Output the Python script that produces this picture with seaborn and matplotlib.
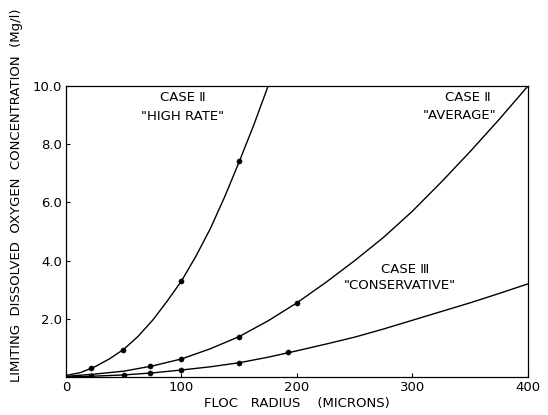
import pandas as pd
import matplotlib
matplotlib.use("Agg")
import matplotlib.pyplot as plt
import seaborn as sns

# curves (floc radius in microns, DO in mg/l)
high_x = [0, 12.5, 25, 37.5, 50, 62.5, 75, 87.5, 100, 112.5, 125, 137.5, 150, 162.5, 175]
high_y = [0.05, 0.15, 0.35, 0.62, 0.95, 1.4, 1.95, 2.6, 3.3, 4.15, 5.1, 6.2, 7.4, 8.65, 10.0]

avg_x = [0, 25, 50, 75, 100, 125, 150, 175, 200, 225, 250, 275, 300, 325, 350, 375, 400]
avg_y = [0.02, 0.1, 0.2, 0.38, 0.62, 0.97, 1.39, 1.93, 2.55, 3.25, 4.0, 4.8, 5.7, 6.7, 7.75, 8.85, 10.0]

cons_x = [0, 25, 50, 75, 100, 125, 150, 175, 200, 225, 250, 275, 300, 325, 350, 375, 400]
cons_y = [0.0, 0.03, 0.07, 0.14, 0.24, 0.35, 0.49, 0.68, 0.9, 1.13, 1.37, 1.65, 1.95, 2.25, 2.55, 2.87, 3.2]

# plotted data points
high_pts_x = [22, 49, 100, 150]
high_pts_y = [0.3, 0.93, 3.3, 7.43]
avg_pts_x = [22, 73, 100, 150, 200]
avg_pts_y = [0.05, 0.39, 0.62, 1.39, 2.53]
cons_pts_x = [22, 50, 73, 100, 150, 192]
cons_pts_y = [0.02, 0.07, 0.13, 0.24, 0.49, 0.87]

x_ticks = [0, 100, 200, 300, 400]
y_ticks = [2, 4, 6, 8, 10]
y_tick_labels = ["2.0", "4.0", "6.0", "8.0", "10.0"]

sns.set_style("ticks")
plt.rcParams["font.family"] = ["DejaVu Sans"]
for k in ["text.color", "axes.labelcolor", "xtick.color", "ytick.color", "axes.edgecolor"]:
    plt.rcParams[k] = "black"

fig = plt.figure(figsize=(5.48, 4.15), dpi=100)
ax = fig.add_axes([0.1204, 0.0916, 0.8431, 0.7012])

for cx, cy in [(high_x, high_y), (avg_x, avg_y), (cons_x, cons_y)]:
    sns.lineplot(x=cx, y=cy, ax=ax, color="black", linewidth=1.0, sort=False)

for px, py in [(high_pts_x, high_pts_y), (avg_pts_x, avg_pts_y), (cons_pts_x, cons_pts_y)]:
    sns.scatterplot(x=px, y=py, ax=ax, color="black", s=14, edgecolor="black", zorder=3)

ax.set_xlim(0, 400)
ax.set_ylim(0, 10)
ax.set_xticks(x_ticks)
ax.set_yticks(y_ticks)
ax.set_yticklabels(y_tick_labels)
ax.tick_params(direction="in", length=3, width=0.8, labelsize=9.5, pad=3)
for s in ax.spines.values():
    s.set_linewidth(0.9)

ax.set_xlabel("FLOC   RADIUS    (MICRONS)", fontsize=9.5, labelpad=2)
fig.text(0.03, 0.53, "LIMITING  DISSOLVED  OXYGEN  CONCENTRATION  (Mg/l)",
         rotation=90, ha="center", va="center", fontsize=9.5)

ax.text(101, 9.6, "CASE Ⅱ", ha="center", va="center", fontsize=9.5)
ax.text(101, 8.95, '"HIGH RATE"', ha="center", va="center", fontsize=9.5)
ax.text(348, 9.6, "CASE Ⅱ", ha="center", va="center", fontsize=9.5)
ax.text(341, 8.97, '"AVERAGE"', ha="center", va="center", fontsize=9.5)
ax.text(294, 3.68, "CASE Ⅲ", ha="center", va="center", fontsize=9.5)
ax.text(289, 3.13, '"CONSERVATIVE"', ha="center", va="center", fontsize=9.5)

fig.savefig("out.png", dpi=100)
